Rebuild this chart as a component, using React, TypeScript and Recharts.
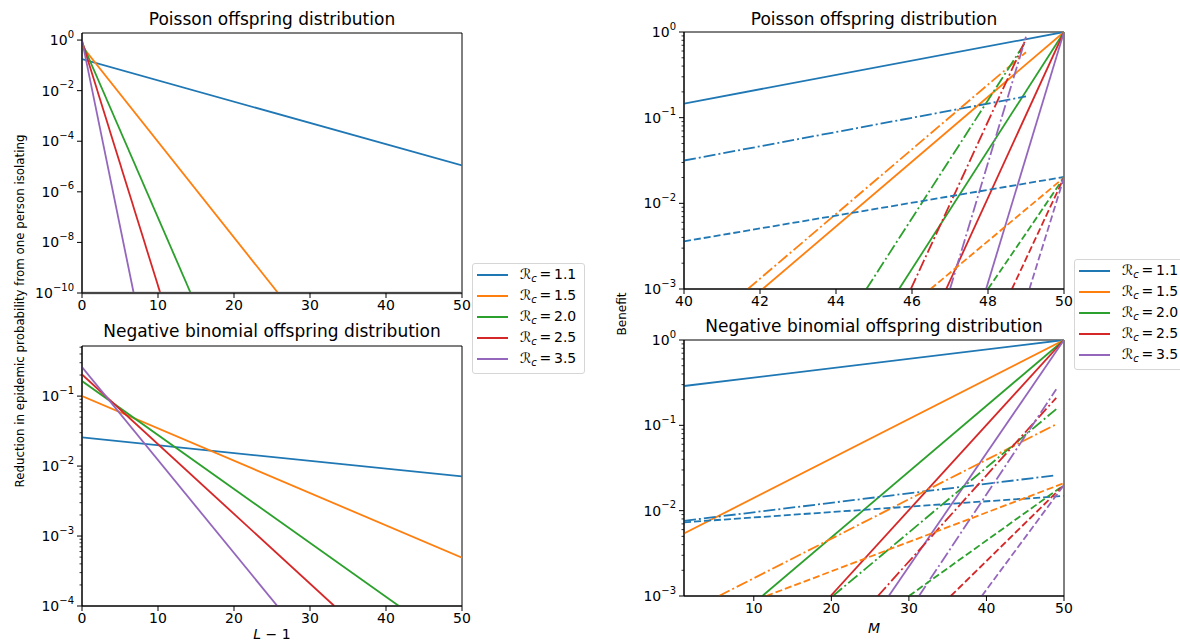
import { LineChart, Line, XAxis, YAxis, Legend, ReferenceArea, ReferenceLine } from 'recharts';

const rcValues = ['1.1', '1.5', '2.0', '2.5', '3.5'];
const colors = ['#1f77b4', '#ff7f0e', '#2ca02c', '#d62728', '#9467bd'];

// [x, y] pairs per R_c (each curve is straight on the log axis)
const poissonReduction: [number, number][][] = [
  [[0, 0.176], [50, 1.1e-5]],
  [[0, 0.583], [25.8, 1e-10]],
  [[0, 0.797], [14.3, 1e-10]],
  [[0, 0.893], [10.3, 1e-10]],
  [[0, 0.974], [6.8, 1e-10]],
];

const negbinReduction: [number, number][][] = [
  [[0, 0.0257], [50, 0.0071]],
  [[0, 0.1], [50, 4.9e-4]],
  [[0, 0.164], [41.7, 1e-4]],
  [[0, 0.204], [33.2, 1e-4]],
  [[0, 0.26], [25.7, 1e-4]],
];

const poissonBenefitSolid: [number, number][][] = [
  [[40, 0.146], [50, 1]],
  [[42.07, 1e-3], [50, 1]],
  [[45.66, 1e-3], [50, 1]],
  [[46.9, 1e-3], [50, 1]],
  [[47.95, 1e-3], [50, 1]],
];
const poissonBenefitDashDot: [number, number][][] = [
  [[40, 0.0316], [49, 0.177]],
  [[41.68, 1e-3], [49, 0.58]],
  [[44.8, 1e-3], [49, 0.78]],
  [[45.97, 1e-3], [49, 0.83]],
  [[47.0, 1e-3], [49, 0.88]],
];
const poissonBenefitDashed: [number, number][][] = [
  [[40, 0.0036], [50, 0.0203]],
  [[46.49, 1e-3], [50, 0.02]],
  [[48.0, 1e-3], [50, 0.02]],
  [[48.63, 1e-3], [50, 0.02]],
  [[49.09, 1e-3], [50, 0.02]],
];

const negbinBenefitSolid: [number, number][][] = [
  [[1, 0.289], [50, 1]],
  [[1, 0.0054], [50, 1]],
  [[11.1, 1e-3], [50, 1]],
  [[19.9, 1e-3], [50, 1]],
  [[27.4, 1e-3], [50, 1]],
];
const negbinBenefitDashDot: [number, number][][] = [
  [[1, 0.0076], [49, 0.026]],
  [[5.5, 1e-3], [49, 0.103]],
  [[20.2, 1e-3], [49, 0.155]],
  [[26.0, 1e-3], [49, 0.21]],
  [[31.3, 1e-3], [49, 0.264]],
];
const negbinBenefitDashed: [number, number][][] = [
  [[1, 0.0073], [50, 0.0149]],
  [[11.6, 1e-3], [50, 0.021]],
  [[30.0, 1e-3], [50, 0.02]],
  [[35.4, 1e-3], [50, 0.02]],
  [[39.4, 1e-3], [50, 0.02]],
];

const lTicks = [0, 10, 20, 30, 40, 50];
const mTicksPoisson = [40, 42, 44, 46, 48, 50];
const mTicksNegbin = [10, 20, 30, 40, 50];
const poissonReductionDecades = [1e-10, 1e-8, 1e-6, 1e-4, 1e-2, 1];
const negbinReductionDecades = [1e-4, 1e-3, 1e-2, 1e-1];
const benefitDecades = [1e-3, 1e-2, 1e-1, 1];

const FONT = 'DejaVu Sans, sans-serif';
const DASH = '7 3';
const DASHDOT = '12 3 2 3';

const withMinor = (decades: number[], top: number) => {
  const out: number[] = [];
  decades.forEach((d) => {
    out.push(d);
    for (let k = 2; k <= 9; k++) if (k * d <= top) out.push(k * d);
  });
  return out;
};

const toPts = (s: [number, number][]) => s.map(([x, y]) => ({ x, y }));

function LogTick(props: any) {
  const { x, y, payload } = props;
  const e = Math.log10(payload.value);
  const major = Math.abs(e - Math.round(e)) < 1e-6;
  if (!major) return <line x1={x - 2.5} x2={x} y1={y} y2={y} stroke="#000" strokeWidth={0.8} />;
  const exp = Math.round(e);
  return (
    <g>
      <line x1={x - 5} x2={x} y1={y} y2={y} stroke="#000" strokeWidth={1} />
      <text x={x - 8} y={y + 5} textAnchor="end" fontSize={14} fill="#000" fontFamily={FONT}>
        10
        <tspan fontSize={10} dy={-7.5}>{exp < 0 ? '\u2212' + -exp : String(exp)}</tspan>
      </text>
    </g>
  );
}

function RcLegend({ payload }: any) {
  const items = (payload || []).filter((p: any) => p.type !== 'none');
  return (
    <div
      style={{
        border: '1px solid #d6d6d6',
        borderRadius: 3,
        background: 'rgba(255,255,255,0.85)',
        padding: '0 0 3px 4px',
        width: 107,
        fontFamily: FONT,
      }}
    >
      {items.map((p: any) => (
        <div key={p.value} style={{ display: 'flex', alignItems: 'center', height: 21.2 }}>
          <svg width={31} height={4}>
            <line x1={0} x2={31} y1={2} y2={2} stroke={p.color} strokeWidth={2} />
          </svg>
          <span style={{ marginLeft: 12, fontSize: 14, color: '#000', whiteSpace: 'nowrap' }}>
            <span style={{ fontStyle: 'italic' }}>ℛ</span>
            <sub style={{ fontSize: 10, fontStyle: 'italic', verticalAlign: -3 }}>c</sub>
            {'\u2009=\u2009'}
            {p.value}
          </span>
        </div>
      ))}
    </div>
  );
}

const tickStyle = { fill: '#000', fontSize: 14, fontFamily: FONT };

type PanelProps = {
  left: number;
  top: number;
  width: number;
  height: number;
  margin: { top: number; right: number; left: number; bottom: number };
  yWidth: number;
  xHeight: number;
  xDomain: [number, number];
  xTicks: number[];
  yDomain: [number, number];
  yTicks: number[];
  series: { pts: [number, number][]; i: number; dash?: string; legend: boolean }[];
  legendPos?: { left: number; top: number };
  grayFloor?: boolean;
};

function Panel(p: PanelProps) {
  return (
    <div style={{ position: 'absolute', left: p.left, top: p.top }}>
      <LineChart width={p.width} height={p.height} margin={p.margin}>
        <XAxis
          dataKey="x"
          type="number"
          domain={p.xDomain}
          ticks={p.xTicks}
          interval={0}
          allowDataOverflow
          height={p.xHeight}
          tick={tickStyle}
          tickSize={5}
          tickMargin={2}
          axisLine={{ stroke: '#000' }}
          tickLine={{ stroke: '#000' }}
        />
        <YAxis
          type="number"
          scale="log"
          domain={p.yDomain}
          ticks={p.yTicks}
          interval={0}
          allowDataOverflow
          width={p.yWidth}
          tick={<LogTick />}
          tickSize={0}
          tickMargin={0}
          tickLine={false}
          axisLine={{ stroke: '#000' }}
        />
        <ReferenceArea
          x1={p.xDomain[0]}
          x2={p.xDomain[1]}
          y1={p.yDomain[0]}
          y2={p.yDomain[1]}
          fill="none"
          fillOpacity={0}
          stroke="#000"
          strokeWidth={1}
          ifOverflow="visible"
        />
        {p.series.map((s, k) => (
          <Line
            key={k}
            data={toPts(s.pts)}
            dataKey="y"
            name={rcValues[s.i]}
            type="linear"
            stroke={colors[s.i]}
            strokeWidth={1.8}
            strokeDasharray={s.dash}
            dot={false}
            activeDot={false}
            legendType={s.legend ? 'line' : 'none'}
            isAnimationActive={false}
          />
        ))}
        {p.grayFloor && (
          <ReferenceLine y={p.yDomain[0]} stroke="#8a8a8a" strokeWidth={2.5} ifOverflow="visible" />
        )}
        {p.legendPos && (
          <Legend
            layout="vertical"
            align="center"
            verticalAlign="middle"
            content={<RcLegend />}
            wrapperStyle={{ left: p.legendPos.left, top: p.legendPos.top, width: 112 }}
          />
        )}
      </LineChart>
    </div>
  );
}

const titleStyle = (left: number, top: number): React.CSSProperties => ({
  position: 'absolute',
  left,
  top,
  width: 380,
  textAlign: 'center',
  fontSize: 17,
  fontFamily: FONT,
  color: '#000',
  lineHeight: '20px',
  whiteSpace: 'nowrap',
});

export default function App() {
  const simple = (sets: [number, number][][]) =>
    sets.map((pts, i) => ({ pts, i, legend: true }));
  const triple = (solid: [number, number][][], dd: [number, number][][], dash: [number, number][][]) => [
    ...solid.map((pts, i) => ({ pts, i, legend: true })),
    ...dd.map((pts, i) => ({ pts, i, dash: DASHDOT, legend: false })),
    ...dash.map((pts, i) => ({ pts, i, dash: DASH, legend: false })),
  ];

  return (
    <div
      style={{
        position: 'absolute',
        left: 0,
        top: 0,
        width: 1180,
        height: 643,
        overflow: 'hidden',
        background: '#fff',
        fontFamily: FONT,
      }}
    >
      <Panel
        left={0}
        top={0}
        width={480}
        height={320}
        margin={{ top: 33, right: 18, left: 0, bottom: 0 }}
        yWidth={82}
        xHeight={27}
        xDomain={[0, 50]}
        xTicks={lTicks}
        yDomain={[1e-10, 1.9]}
        yTicks={poissonReductionDecades}
        series={simple(poissonReduction)}
        legendPos={{ left: 472, top: 263 }}
        grayFloor
      />
      <Panel
        left={0}
        top={330}
        width={480}
        height={313}
        margin={{ top: 16, right: 18, left: 0, bottom: 0 }}
        yWidth={82}
        xHeight={37}
        xDomain={[0, 50]}
        xTicks={lTicks}
        yDomain={[1e-4, 0.52]}
        yTicks={withMinor(negbinReductionDecades, 0.52)}
        series={simple(negbinReduction)}
      />
      <Panel
        left={600}
        top={0}
        width={480}
        height={320}
        margin={{ top: 32, right: 16, left: 0, bottom: 0 }}
        yWidth={84}
        xHeight={31}
        xDomain={[40, 50]}
        xTicks={mTicksPoisson}
        yDomain={[1e-3, 1]}
        yTicks={withMinor(benefitDecades, 1)}
        series={triple(poissonBenefitSolid, poissonBenefitDashDot, poissonBenefitDashed)}
        legendPos={{ left: 474, top: 259 }}
      />
      <Panel
        left={600}
        top={320}
        width={480}
        height={323}
        margin={{ top: 20, right: 16, left: 0, bottom: 0 }}
        yWidth={84}
        xHeight={47}
        xDomain={[1, 50]}
        xTicks={mTicksNegbin}
        yDomain={[1e-3, 1]}
        yTicks={withMinor(benefitDecades, 1)}
        series={triple(negbinBenefitSolid, negbinBenefitDashDot, negbinBenefitDashed)}
      />

      <div style={titleStyle(82, 9)}>Poisson offspring distribution</div>
      <div style={titleStyle(82, 321)}>Negative binomial offspring distribution</div>
      <div style={titleStyle(684, 9)}>Poisson offspring distribution</div>
      <div style={titleStyle(684, 316)}>Negative binomial offspring distribution</div>

      <div
        style={{
          position: 'absolute',
          left: 20,
          top: 311,
          transform: 'translate(-50%, -50%) rotate(-90deg)',
          fontSize: 11.8,
          whiteSpace: 'nowrap',
          color: '#000',
        }}
      >
        Reduction in epidemic probability from one person isolating
      </div>
      <div
        style={{
          position: 'absolute',
          left: 622,
          top: 314,
          transform: 'translate(-50%, -50%) rotate(-90deg)',
          fontSize: 12,
          whiteSpace: 'nowrap',
          color: '#000',
        }}
      >
        Benefit
      </div>
      <div
        style={{
          position: 'absolute',
          left: 272,
          top: 634,
          transform: 'translate(-50%, -50%)',
          fontSize: 14,
          whiteSpace: 'nowrap',
          color: '#000',
        }}
      >
        <i>L</i> − 1
      </div>
      <div
        style={{
          position: 'absolute',
          left: 874,
          top: 628,
          transform: 'translate(-50%, -50%)',
          fontSize: 14,
          whiteSpace: 'nowrap',
          color: '#000',
        }}
      >
        <i>M</i>
      </div>
    </div>
  );
}
